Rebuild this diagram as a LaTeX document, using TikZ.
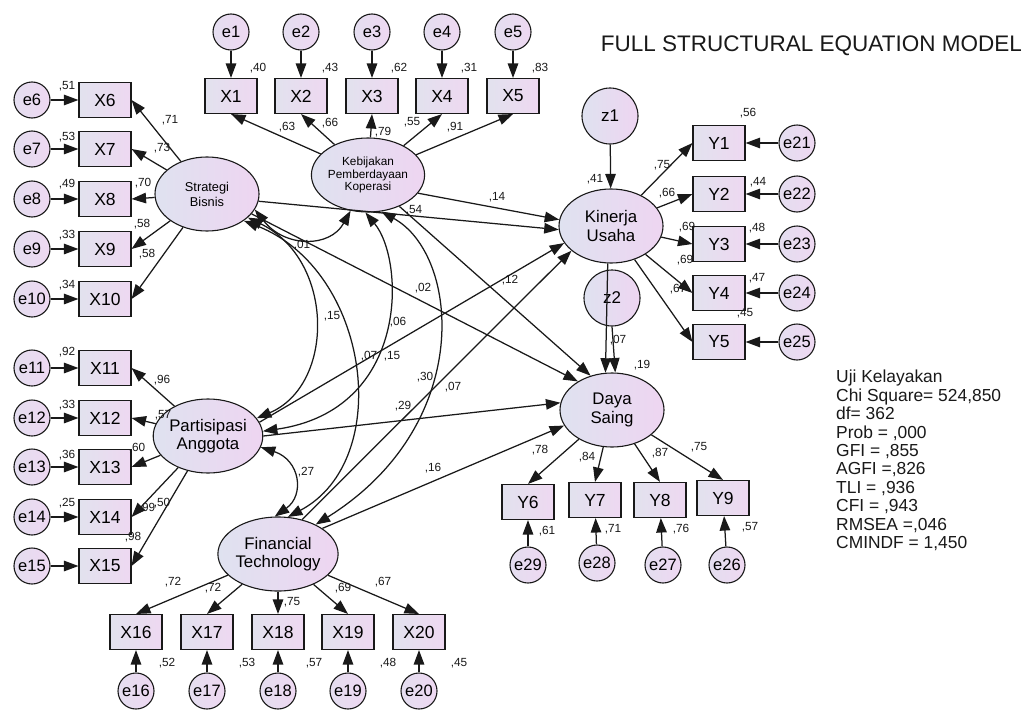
\documentclass[tikz,border=0pt]{standalone}
\usepackage{fontspec}
\setmainfont{Liberation Sans}
\usetikzlibrary{shapes.geometric,arrows.meta}
\definecolor{latL}{RGB}{223,226,240}
\definecolor{latR}{RGB}{238,213,241}
\definecolor{boxL}{RGB}{226,226,238}
\definecolor{boxR}{RGB}{238,216,241}
\definecolor{errL}{RGB}{228,222,240}
\definecolor{errR}{RGB}{238,216,241}
\definecolor{ink}{RGB}{25,25,25}
\begin{document}
\begin{tikzpicture}[x=1pt,y=-1pt,
  lat/.style={ellipse, draw=ink, line width=1.1pt, left color=latL, right color=latR,
    minimum width=104pt, minimum height=74pt, inner sep=0pt, align=center,
    font=\fontsize{16.8}{18.5}\selectfont},
  obs/.style={rectangle, draw=ink, line width=1.1pt, left color=boxL, right color=boxR,
    minimum width=52pt, minimum height=35pt, inner sep=0pt, font=\fontsize{17.5}{18}\selectfont},
  err/.style={circle, draw=ink, line width=1.1pt, left color=errL, right color=errR,
    minimum size=36pt, inner sep=0pt, font=\fontsize{16.5}{18}\selectfont},
  dist/.style={circle, draw=ink, line width=1.1pt, left color=latL, right color=latR,
    minimum size=56pt, inner sep=0pt, font=\fontsize{17}{18}\selectfont},
  lbl/.style={inner sep=0pt, font=\fontsize{11.8}{12}\selectfont, text=ink},
  arr/.style={draw=ink, line width=1.25pt, -{Triangle[length=14.5pt,width=10.5pt]}},
  dbl/.style={draw=ink, line width=1.25pt, {Triangle[length=14.5pt,width=10.5pt]}-{Triangle[length=14.5pt,width=10.5pt]}}
]
\useasboundingbox (0,0) rectangle (1024,709);
\fill[white] (0,0) rectangle (1024,709);

% ---------- title and fit ----------
\node[inner sep=0pt, anchor=east, font=\fontsize{22.5}{24}\selectfont, text=ink] (title) at (1022,46) {FULL STRUCTURAL EQUATION MODEL};
\node[inner sep=0pt, anchor=north west, align=left, font=\fontsize{17.4}{18.4}\selectfont, text=ink] (fit) at (836,370)
 {Uji Kelayakan\\Chi Square= 524,850\\df= 362\\Prob = ,000\\GFI = ,855\\AGFI =,826\\TLI = ,936\\CFI = ,943\\RMSEA =,046\\CMINDF = 1,450};

% ---------- latent variables ----------
\node[lat, font=\fontsize{12.8}{15}\selectfont] (SB) at (207,194) {Strategi\\Bisnis};
\node[lat, font=\fontsize{11.8}{12.6}\selectfont] (KPK) at (368,175) {Kebijakan\\Pemberdayaan\\Koperasi};
\node[lat] (KU) at (611,226) {Kinerja\\Usaha};
\node[lat] (DS) at (612,410) {Daya\\Saing};
\node[lat] (PA) at (208,436) {Partisipasi\\Anggota};
\node[lat] (FT) at (278,554) {Financial\\Technology};
\node[dist] (z1) at (610,116) {z1};
\node[dist] (z2) at (612,298) {z2};

% ---------- observed + errors ----------
\foreach \i/\x in {1/231,2/301,3/372,4/442,5/513}{
  \node[obs] (X\i) at (\x,96) {X\i};
  \node[err] (e\i) at (\x,32) {e\i};
}
\foreach \i/\y in {6/100,7/149,8/199,9/249,10/299,11/368,12/418,13/467,14/517,15/566}{
  \node[obs] (X\i) at (105,\y) {X\i};
  \node[err] (e\i) at (32,\y) {e\i};
}
\foreach \i/\x in {16/136,17/207,18/278,19/348,20/419}{
  \node[obs] (X\i) at (\x,632) {X\i};
  \node[err] (e\i) at (\x,691) {e\i};
}
\foreach \i/\j/\y in {1/21/143,2/22/194,3/23/244,4/24/293,5/25/342}{
  \node[obs] (Y\i) at (719,\y) {Y\i};
  \node[err] (e\j) at (797,\y) {e\j};
}
\node[obs] (Y6) at (528,502) {Y6};
\node[obs] (Y7) at (595,500) {Y7};
\node[obs] (Y8) at (660,500) {Y8};
\node[obs] (Y9) at (723,498) {Y9};
\node[err] (e29) at (528,565) {e29};
\node[err] (e28) at (597,563) {e28};
\node[err] (e27) at (663,565) {e27};
\node[err] (e26) at (727,565) {e26};

% ---------- error arrows ----------
\foreach \i in {1,...,20} \draw[arr] (e\i) -- (X\i);
\foreach \i/\j in {1/21,2/22,3/23,4/24,5/25} \draw[arr] (e\j) -- (Y\i);
\draw[arr] (e29) -- (Y6);
\draw[arr] (e28) -- (Y7);
\draw[arr] (e27) -- (Y8);
\draw[arr] (e26) -- (Y9);

% ---------- loadings ----------
\foreach \i in {1,...,5} \draw[arr] (KPK) -- (X\i.south);
\foreach \i in {6,...,10} \draw[arr] (SB) -- (X\i.east);
\foreach \i in {11,...,15} \draw[arr] (PA) -- (X\i.east);
\foreach \i in {16,...,20} \draw[arr] (FT) -- (X\i.north);
\foreach \i in {1,...,5} \draw[arr] (KU) -- (Y\i.west);
\foreach \i in {6,...,9} \draw[arr] (DS) -- (Y\i.north);

% ---------- structural paths ----------
\draw[arr] (z1) -- (KU);
\draw[arr] (z2.south) -- (DS.85);
\draw[arr] (KU.265) -- (DS.100);
\draw[arr] (SB.-8) -- (KU.184);
\draw[arr] (SB.-24) -- (DS.140);
\draw[arr] (KPK.-20) -- (KU.173);
\draw[arr] (KPK.-45) -- (DS.122);
\draw[arr] (PA.15) -- (KU.200);
\draw[arr] (PA.0) -- (DS.172);
\draw[arr] (FT.55) -- (KU.212);
\draw[arr] (FT.30) -- (DS.198);

% ---------- covariances ----------
\draw[dbl] (SB.-18) .. controls (285,248) and (330,248) .. (KPK.244);
\draw[dbl] (SB.-30) .. controls (335,260) and (335,385) .. (PA.20);
\draw[dbl] (SB.-36) .. controls (370,270) and (395,460) .. (FT.75);
\draw[dbl] (KPK.266) .. controls (405,260) and (410,410) .. (PA.5);
\draw[dbl] (KPK.290) .. controls (460,255) and (475,425) .. (FT.38);
\draw[dbl] (PA.-12) .. controls (300,460) and (305,495) .. (FT.95);

% ---------- labels ----------
\node[lbl] (l51) at (67,86) {,51};
\node[lbl] (l53) at (67,137) {,53};
\node[lbl] (l49) at (67,184) {,49};
\node[lbl] (l33a) at (67,235) {,33};
\node[lbl] (l34) at (67,285) {,34};
\node[lbl] (l71) at (170,120) {,71};
\node[lbl] (l73) at (162,148) {,73};
\node[lbl] (l70) at (143,183) {,70};
\node[lbl] (l58a) at (142,224) {,58};
\node[lbl] (l58b) at (147,254) {,58};
\node[lbl] (l40) at (258,68) {,40};
\node[lbl] (l43) at (330,68) {,43};
\node[lbl] (l62) at (399,68) {,62};
\node[lbl] (l31) at (469,68) {,31};
\node[lbl] (l83) at (540,68) {,83};
\node[lbl] (l63) at (287,127) {,63};
\node[lbl] (l66) at (330,123) {,66};
\node[lbl] (l79) at (383,132) {,79};
\node[lbl] (l55) at (412,122) {,55};
\node[lbl] (l91) at (455,127) {,91};
\node[lbl] (l14) at (497,197) {,14};
\node[lbl] (l54) at (414,210) {,54};
\node[lbl] (l56) at (748,113) {,56};
\node[lbl] (l75a) at (662,165) {,75};
\node[lbl] (l41) at (595,179) {,41};
\node[lbl] (l66b) at (667,193) {,66};
\node[lbl] (l44) at (758,182) {,44};
\node[lbl] (l69a) at (687,227) {,69};
\node[lbl] (l48a) at (757,228) {,48};
\node[lbl] (l69b) at (685,260) {,69};
\node[lbl] (l47) at (757,278) {,47};
\node[lbl] (l67a) at (678,289) {,67};
\node[lbl] (l45a) at (745,313) {,45};
\node[lbl] (l07a) at (618,340) {,07};
\node[lbl] (l19) at (642,365) {,19};
\node[lbl] (l78) at (540,450) {,78};
\node[lbl] (l84) at (587,457) {,84};
\node[lbl] (l87) at (660,453) {,87};
\node[lbl] (l75b) at (699,447) {,75};
\node[lbl] (l61) at (547,531) {,61};
\node[lbl] (l71b) at (613,529) {,71};
\node[lbl] (l76) at (681,529) {,76};
\node[lbl] (l57a) at (750,527) {,57};
\node[lbl] (l72a) at (173,582) {,72};
\node[lbl] (l72b) at (213,588) {,72};
\node[lbl] (l75c) at (292,602) {,75};
\node[lbl] (l69c) at (343,588) {,69};
\node[lbl] (l67b) at (383,582) {,67};
\node[lbl] (l52) at (167,663) {,52};
\node[lbl] (l53b) at (247,663) {,53};
\node[lbl] (l57b) at (314,663) {,57};
\node[lbl] (l48b) at (388,663) {,48};
\node[lbl] (l45b) at (459,663) {,45};
\node[lbl] (l92) at (67,352) {,92};
\node[lbl] (l33b) at (67,405) {,33};
\node[lbl] (l36) at (67,455) {,36};
\node[lbl] (l25) at (67,503) {,25};
\node[lbl] (l96) at (162,380) {,96};
\node[lbl] (l57c) at (163,415) {,57};
\node[lbl] (l60) at (137,448) {,60};
\node[lbl] (l99) at (147,508) {,99};
\node[lbl] (l50) at (162,503) {,50};
\node[lbl] (l98) at (133,537) {,98};
\node[lbl] (l27) at (306,472) {,27};
\node[lbl] (l01) at (302,245) {,01};
\node[lbl] (l15a) at (332,316) {,15};
\node[lbl] (l06) at (398,322) {,06};
\node[lbl] (l07b) at (369,356) {,07};
\node[lbl] (l15b) at (392,356) {,15};
\node[lbl] (l30) at (425,377) {,30};
\node[lbl] (l07c) at (453,387) {,07};
\node[lbl] (l29) at (403,406) {,29};
\node[lbl] (l16) at (433,468) {,16};
\node[lbl] (l12) at (510,280) {,12};
\node[lbl] (l02) at (423,288) {,02};
\end{tikzpicture}
\end{document}
